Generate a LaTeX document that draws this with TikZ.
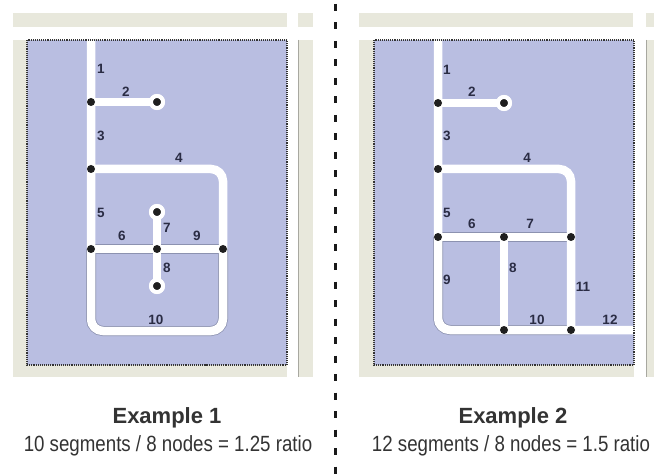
\documentclass[tikz,border=0pt]{standalone}
\usepackage{fontspec}
\setmainfont{Liberation Sans}
\newfontfamily\narrowfont[FakeStretch=0.85]{Liberation Sans}
\definecolor{beige}{HTML}{E8E8DC}
\definecolor{bluef}{HTML}{B9BEE1}
\definecolor{edgec}{HTML}{8C92B0}
\definecolor{labc}{HTML}{2A2C44}
\definecolor{txtc}{HTML}{333333}
\definecolor{stripline}{HTML}{A8A8A0}
\begin{document}
\begin{tikzpicture}[x=1pt,y=-1pt,
  pipe/.style={line width=8.5pt, draw=white},
  pipeedge/.style={line width=10pt, draw=edgec},
  jdot/.style={circle, fill=black!88, inner sep=0pt, minimum size=8pt},
  enddot/.style={circle, fill=black!88, draw=white, line width=4pt, inner sep=0pt, minimum size=12pt},
  lbl/.style={font=\bfseries\fontsize{13.5}{15}\selectfont, text=labc, inner sep=0pt},
  title/.style={font=\bfseries\fontsize{22}{26}\selectfont, text=txtc, anchor=base, inner sep=0pt},
  subtitle/.style={font=\narrowfont\fontsize{22}{26}\selectfont, text=txtc, anchor=base, inner sep=0pt},
  bluearea/.style={fill=bluef},
  blueborder/.style={draw=black!80, line width=1.3pt, dash pattern=on 1pt off 0.9pt},
  beigearea/.style={fill=beige},
  loopround/.style={rounded corners=12pt}
]
\useasboundingbox (0,0) rectangle (654,476);
\fill[white] (0,0) rectangle (654,476);

% ---------------- panel backgrounds ----------------
% Example 1
\fill[beigearea] (13,13) rectangle (287,27);
\fill[beigearea] (298,13) rectangle (313,27);
\fill[beigearea] (13,40) rectangle (287,377);
\fill[beigearea] (298,40) rectangle (313,377);
\draw[stripline, line width=0.8pt] (298.4,40) -- (298.4,377);
\fill[bluearea] (27,40) rectangle (287,365);
% Example 2
\fill[beigearea] (359,13) rectangle (633,27);
\fill[beigearea] (646,13) rectangle (654,27);
\fill[beigearea] (359,40) rectangle (634,377);
\fill[beigearea] (646,40) rectangle (654,377);
\draw[stripline, line width=0.8pt] (646.4,40) -- (646.4,377);
\fill[bluearea] (374,40) rectangle (634,365);

% ---------------- Example 1 ----------------
\coordinate (t1) at (91,40);
\coordinate (c1) at (91,331);
\coordinate (c2) at (223,331);
\coordinate (c3) at (223,169);
\coordinate (c4) at (223,249);
\node[jdot] (n1a) at (91,102) {};
\node[enddot] (n1b) at (157,102) {};
\node[jdot] (n1c) at (91,169) {};
\node[jdot] (n1d) at (91,249) {};
\node[jdot] (n1e) at (157,249) {};
\node[jdot] (n1f) at (223,249) {};
\node[enddot] (n1g) at (157,212) {};
\node[enddot] (n1h) at (157,286) {};

% edges (thin outline) inside the loop
\draw[pipeedge, loopround] (c4) -- (c2) -- (c1) -- (n1d.center);
\draw[pipeedge] (n1d.center) -- (n1f.center);
% white pipes
\draw[pipe, loopround] (t1) -- (c1) -- (c2) -- (c3) -- (n1c.center);
\draw[pipe] (n1a.center) -- (n1b.center);
\draw[pipe] (n1d.center) -- (n1f.center);
\draw[pipe] (n1g.center) -- (n1h.center);
% dots on top
\node[jdot] at (n1a) {};
\node[enddot] at (n1b) {};
\node[jdot] at (n1c) {};
\node[jdot] at (n1d) {};
\node[jdot] at (n1e) {};
\node[jdot] at (n1f) {};
\node[enddot] at (n1g) {};
\node[enddot] at (n1h) {};

\node[lbl] (l1a) at (101,69) {1};
\node[lbl] (l1b) at (126,92) {2};
\node[lbl] (l1c) at (101,136) {3};
\node[lbl] (l1d) at (179,158) {4};
\node[lbl] (l1e) at (101,213) {5};
\node[lbl] (l1f) at (122,236) {6};
\node[lbl] (l1g) at (167,228) {7};
\node[lbl] (l1h) at (167,268) {8};
\node[lbl] (l1i) at (197,236) {9};
\node[lbl] (l1j) at (156,320) {10};

% ---------------- Example 2 ----------------
\coordinate (t2) at (438,40);
\coordinate (d1) at (438,330);
\coordinate (d2) at (634,330);
\coordinate (d3) at (571,169);
\node[jdot] (n2a) at (438,103) {};
\node[enddot] (n2b) at (504,103) {};
\node[jdot] (n2c) at (438,169) {};
\node[jdot] (n2d) at (438,237) {};
\node[jdot] (n2e) at (504,237) {};
\node[jdot] (n2f) at (571,237) {};
\node[jdot] (n2g) at (504,330) {};
\node[jdot] (n2h) at (571,330) {};

\draw[pipeedge] (n2d.center) -- (n2f.center);
\draw[pipeedge, loopround] (n2d.center) -- (d1) -- (n2h.center);
\draw[pipe, loopround] (t2) -- (d1) -- (d2);
\draw[pipe, loopround] (n2c.center) -- (d3) -- (n2h.center);
\draw[pipe] (n2a.center) -- (n2b.center);
\draw[pipe] (n2d.center) -- (n2f.center);
\draw[pipe] (n2e.center) -- (n2g.center);
\node[jdot] at (n2a) {};
\node[enddot] at (n2b) {};
\node[jdot] at (n2c) {};
\node[jdot] at (n2d) {};
\node[jdot] at (n2e) {};
\node[jdot] at (n2f) {};
\node[jdot] at (n2g) {};
\node[jdot] at (n2h) {};

\node[lbl] (l2a) at (447,70) {1};
\node[lbl] (l2b) at (472,92) {2};
\node[lbl] (l2c) at (447,136) {3};
\node[lbl] (l2d) at (527,158) {4};
\node[lbl] (l2e) at (447,213) {5};
\node[lbl] (l2f) at (472,224) {6};
\node[lbl] (l2g) at (530,224) {7};
\node[lbl] (l2h) at (513,268) {8};
\node[lbl] (l2i) at (447,280) {9};
\node[lbl] (l2j) at (537,320) {10};
\node[lbl] (l2k) at (583,287) {11};
\node[lbl] (l2l) at (610,320) {12};

% blue area borders (drawn over pipes)
\draw[blueborder] (27,40) rectangle (287,365);
\draw[blueborder] (374,40) rectangle (634,365);

% ---------------- divider ----------------
\coordinate (dv1) at (335,4);
\coordinate (dv2) at (335,476);
\draw[line width=3pt, black!90, dash pattern=on 7pt off 11.5pt] (dv1) -- (dv2);

% ---------------- captions ----------------
\node[title] (title1) at (167,423) {Example 1};
\node[subtitle] (sub1) at (168,451) {10 segments / 8 nodes = 1.25 ratio};
\node[title] (title2) at (513,423) {Example 2};
\node[subtitle] (sub2) at (511,451) {12 segments / 8 nodes = 1.5 ratio};
\end{tikzpicture}
\end{document}
